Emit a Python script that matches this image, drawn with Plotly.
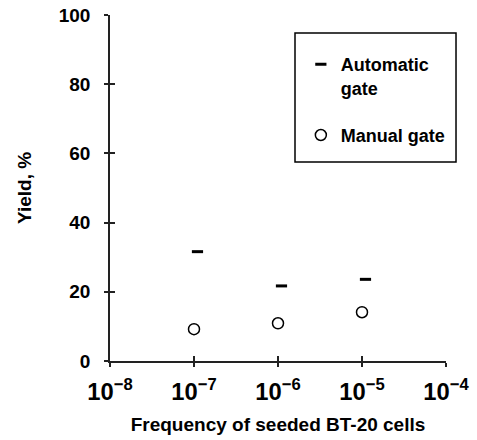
import plotly.graph_objects as go

# Data
auto_x = [1.1e-7, 1.1e-6, 1.1e-5]
auto_y = [31.6, 21.7, 23.6]
manual_x = [1e-7, 1e-6, 1e-5]
manual_y = [9.2, 10.9, 14.1]

x_range = [-8, -4]
y_range = [0, 100]
y_ticks = [0, 20, 40, 60, 80, 100]

FONT = "Liberation Sans"
BLACK = "#000000"

fig = go.Figure()
fig.add_trace(go.Scatter(
    x=auto_x, y=auto_y, mode="markers", name="Automatic<br>gate",
    marker=dict(symbol="line-ew", size=8, color=BLACK,
                line=dict(width=3, color=BLACK)),
    legendgroup="a",
))
fig.add_trace(go.Scatter(
    x=manual_x, y=manual_y, mode="markers", name="Manual gate",
    marker=dict(symbol="circle-open", size=11, color=BLACK,
                line=dict(width=1.5, color=BLACK)),
    legendgroup="b",
))

axis_common = dict(showgrid=False, zeroline=False, linecolor="#222222",
                   tickcolor="#222222", tickwidth=1.5, automargin=False)

fig.update_layout(
    width=477, height=440,
    margin=dict(l=110, r=31, t=15, b=79),
    paper_bgcolor="white", plot_bgcolor="white",
    font=dict(family=FONT, size=19, color=BLACK, weight="bold"),
    xaxis=dict(type="log", range=x_range, dtick=1, exponentformat="power",
               showline=True, linewidth=1.5, ticks="outside", ticklen=4,
               tickfont=dict(size=19, weight="bold"), ticklabelstandoff=6,
               title=dict(text="Frequency of seeded BT-20 cells",
                          font=dict(size=19, weight="bold"), standoff=13),
               **axis_common),
    yaxis=dict(range=y_range, tickvals=y_ticks,
               showline=True, linewidth=1.5, ticks="outside", ticklen=4,
               tickfont=dict(size=19, weight="bold"), ticklabelstandoff=10,
               title=dict(text="Yield, %", font=dict(size=19, weight="bold"),
                          standoff=22),
               **axis_common),
    xaxis2=dict(type="log", range=x_range, dtick=1, overlaying="x",
                showticklabels=False, showline=False, ticks="inside",
                ticklen=5, **axis_common),
    yaxis2=dict(range=y_range, tickvals=y_ticks, overlaying="y",
                showticklabels=False, showline=False, ticks="inside",
                ticklen=5, **axis_common),
    legend=dict(x=0.568, y=0.9104, xanchor="left", yanchor="top",
                bgcolor="rgba(0,0,0,0)", borderwidth=0,
                font=dict(family=FONT, size=18, color=BLACK, weight="bold"),
                traceorder="grouped", tracegroupgap=21, valign="top"),
    showlegend=True,
)

# invisible trace to activate the overlay axes for crossing ticks
fig.add_trace(go.Scatter(x=[1e-8], y=[None], xaxis="x2", yaxis="y2",
                         showlegend=False, hoverinfo="skip"))

# legend frame
fig.add_shape(type="rect", xref="paper", yref="paper",
              x0=0.5506, x1=1.0298, y0=0.575, y1=0.948,
              line=dict(color=BLACK, width=1.5), fillcolor="rgba(0,0,0,0)")

fig.write_html("out.html")
